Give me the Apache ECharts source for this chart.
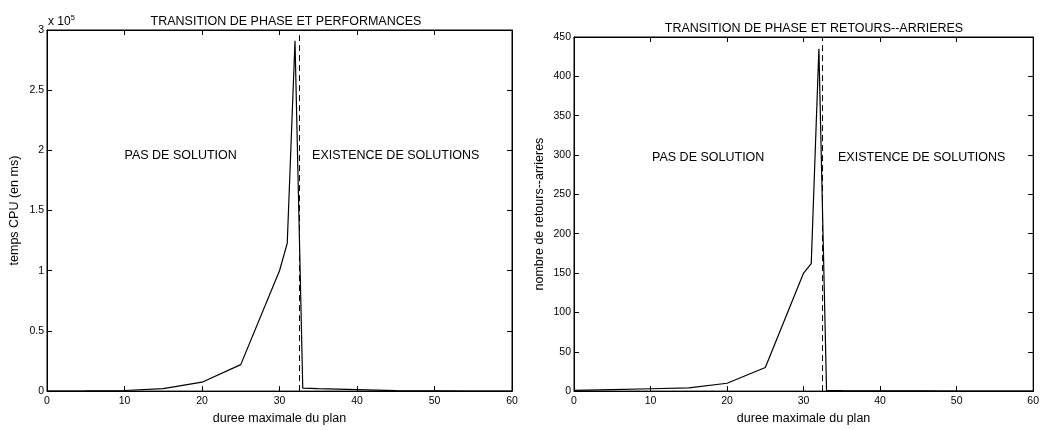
<!DOCTYPE html>
<html>
<head>
<meta charset="utf-8">
<script src="https://cdn.jsdelivr.net/npm/echarts@6/dist/echarts.min.js"></script>
<style>html,body{margin:0;padding:0;background:#fff;}#c{width:1042px;height:430px;}</style>
</head>
<body>
<div id="c"></div>
<script>
// durations (x values)
const durees = [0, 5, 10, 15, 20, 25, 30, 31, 32, 33, 35, 40, 45, 50, 55, 60];
// CPU time in ms
const tempsCPU = [0, 200, 500, 2000, 7400, 22000, 100000, 123000, 291000, 2500, 2000, 1200, 400, 200, 100, 0];
// number of backtracks
const retours = [1, 2, 3, 4, 10, 30, 150, 162, 435, 1, 0.5, 0.3, 0.2, 0.1, 0, 0];
const transition = 32.5;
const titles = ['TRANSITION DE PHASE ET PERFORMANCES', 'TRANSITION DE PHASE ET RETOURS--ARRIERES'];
const yNames = ['temps CPU (en ms)', 'nombre de retours--arrieres'];
const xName = 'duree maximale du plan';
const regionLabels = ['PAS DE SOLUTION', 'EXISTENCE DE SOLUTIONS'];
const labelCoordsCPU = [[10, 196000], [34.2, 196000]];
const labelCoordsRet = [[10.2, 297], [34.5, 297]];

const FONT = 'Liberation Sans, Arial, sans-serif';
const chart = echarts.init(document.getElementById('c'));

function xAx(grid, pos, showLabel, name, gap) {
  return {
    type: 'value', gridIndex: grid, position: pos, min: 0, max: 60, interval: 10,
    name: name || '', nameLocation: 'middle', nameGap: gap || 0,
    nameTextStyle: {color: '#000', fontFamily: FONT, fontSize: 12.5},
    axisLine: {show: true, onZero: false, lineStyle: {color: '#000', width: 1}},
    axisTick: {show: true, inside: true, length: 5, lineStyle: {color: '#000'}},
    axisLabel: {show: showLabel, color: '#000', fontFamily: FONT, fontSize: 10.5, margin: 5},
    splitLine: {show: false}
  };
}
function yAx(grid, pos, showLabel, max, interval, fmt, name, gap) {
  return {
    type: 'value', gridIndex: grid, position: pos, min: 0, max: max, interval: interval,
    name: name || '', nameLocation: 'middle', nameGap: gap || 0,
    nameTextStyle: {color: '#000', fontFamily: FONT, fontSize: 12.5},
    axisLine: {show: true, onZero: false, lineStyle: {color: '#000', width: 1}},
    axisTick: {show: true, inside: true, length: 5, lineStyle: {color: '#000'}},
    axisLabel: {show: showLabel, color: '#000', fontFamily: FONT, fontSize: 10.5, margin: 3, formatter: fmt},
    splitLine: {show: false}
  };
}
function annot(coords) {
  return {
    symbol: 'circle', symbolSize: 0, silent: true,
    label: {show: true, position: 'right', distance: 0, color: '#000', fontFamily: FONT, fontSize: 12.5,
      formatter: p => p.name},
    data: coords.map((c, i) => ({name: regionLabels[i], coord: c}))
  };
}
function vline() {
  return {
    symbol: 'none', silent: true, animation: false,
    label: {show: false},
    lineStyle: {color: '#000', width: 1, type: [6, 4]},
    data: [{xAxis: transition}]
  };
}

chart.setOption({
  animation: false,
  backgroundColor: '#fff',
  title: [
    {text: titles[0], left: 281, top: 10, textAlign: 'center',
     textStyle: {fontFamily: FONT, fontSize: 12.5, fontWeight: 'normal', color: '#000'}},
    {text: titles[1], left: 809, top: 17, textAlign: 'center',
     textStyle: {fontFamily: FONT, fontSize: 12.5, fontWeight: 'normal', color: '#000'}}
  ],
  graphic: [{
    type: 'text', left: 48, top: 14,
    style: {
      text: '{a|x 10}{b|5}', fill: '#000',
      rich: {a: {fontFamily: FONT, fontSize: 12, fill: '#000'},
             b: {fontFamily: FONT, fontSize: 7.5, fill: '#000', verticalAlign: 'top', padding: [0, 0, 8, 0]}}
    }
  }],
  grid: [
    {left: 47, right: 530, top: 30, bottom: 38, show: true, borderColor: '#000', borderWidth: 1},
    {left: 574, right: 5, top: 37, bottom: 32, show: true, borderColor: '#000', borderWidth: 1}
  ],
  xAxis: [xAx(0, 'bottom', true, xName, 14), xAx(0, 'top', false), xAx(1, 'bottom', true, xName, 11), xAx(1, 'top', false)],
  yAxis: [
    yAx(0, 'left', true, 300000, 50000, v => String(v / 100000), yNames[0], 26),
    yAx(0, 'right', false, 300000, 50000),
    yAx(1, 'left', true, 450, 50, v => String(v), yNames[1], 28),
    yAx(1, 'right', false, 450, 50)
  ],
  series: [
    {
      type: 'line', xAxisIndex: 0, yAxisIndex: 0, showSymbol: false, symbol: 'none',
      lineStyle: {color: '#000', width: 1.2},
      data: durees.map((d, i) => [d, tempsCPU[i]]),
      markLine: vline(), markPoint: annot(labelCoordsCPU)
    },
    {
      type: 'line', xAxisIndex: 2, yAxisIndex: 2, showSymbol: false, symbol: 'none',
      lineStyle: {color: '#000', width: 1.2},
      data: durees.map((d, i) => [d, retours[i]]),
      markLine: vline(), markPoint: annot(labelCoordsRet)
    }
  ]
});
</script>
</body>
</html>
